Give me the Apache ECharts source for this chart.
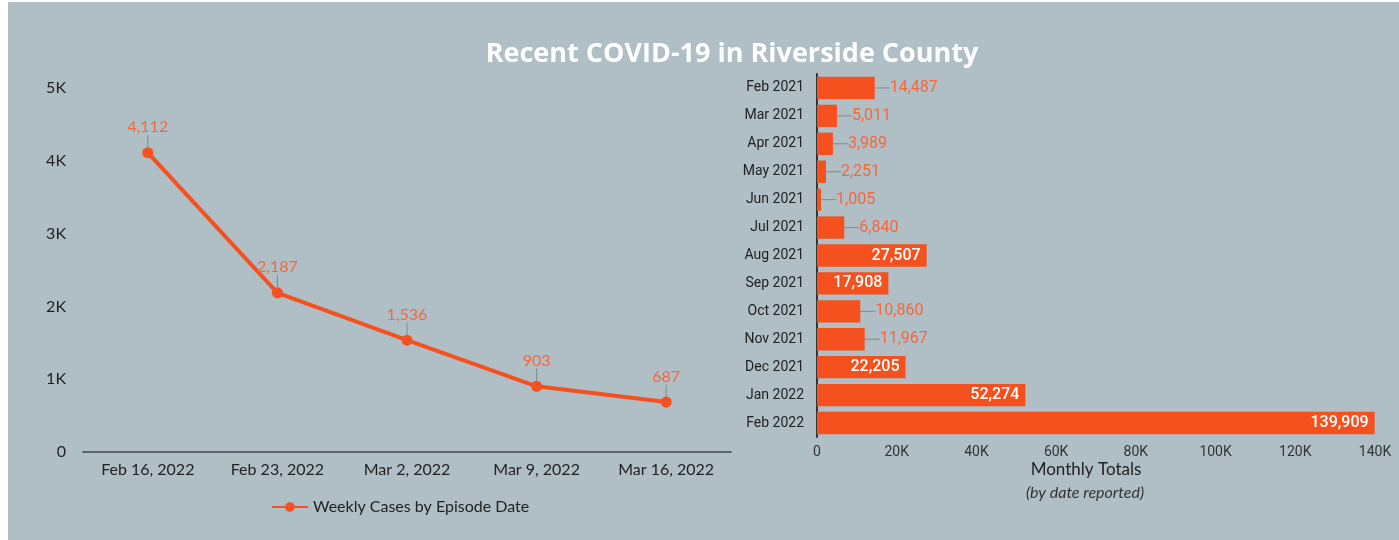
<!DOCTYPE html>
<html><head><meta charset="utf-8">
<script src="https://cdn.jsdelivr.net/npm/echarts@6/dist/echarts.min.js"></script>
<style>html,body{margin:0;padding:0;background:#fff}#c{width:1399px;height:540px}</style>
</head><body><div id="c"></div>
<script>
var titleText = 'Recent COVID-19 in Riverside County';
var weekCategories = ['Feb 16, 2022','Feb 23, 2022','Mar 2, 2022','Mar 9, 2022','Mar 16, 2022'];
var weeklyCases = [4112, 2187, 1536, 903, 687];
var weeklyTicks = [0, 1000, 2000, 3000, 4000, 5000];
var monthCategories = ['Feb 2021','Mar 2021','Apr 2021','May 2021','Jun 2021','Jul 2021','Aug 2021','Sep 2021','Oct 2021','Nov 2021','Dec 2021','Jan 2022','Feb 2022'];
var monthlyTotals = [14487, 5011, 3989, 2251, 1005, 6840, 27507, 17908, 10860, 11967, 22205, 52274, 139909];
var monthlyTicks = [0, 20000, 40000, 60000, 80000, 100000, 120000, 140000];

var ORANGE = '#f4511e';
var LABEL_ORANGE = '#f4683a';
function kfmt(v){ return v === 0 ? '0' : (v/1000) + 'K'; }
function nfmt(v){ return v.toLocaleString('en-US'); }

var barData = monthlyTotals.map(function(v){
  var inside = v > 15000;
  return {
    value: v,
    label: inside ? {position:'insideRight', color:'#fff', fontWeight:500, distance:6,
                     formatter:function(p){return nfmt(p.value);}} :
                    {position:'right', color:LABEL_ORANGE, distance:0,
                     formatter:function(p){return '{l|}{v|' + nfmt(p.value) + '}';},
                     rich:{l:{width:15, height:1, backgroundColor:'#7f8a90'},
                           v:{color:LABEL_ORANGE, fontFamily:'Roboto', fontSize:16}}}
  };
});

var chart = echarts.init(document.getElementById('c'));
chart.setOption({
  backgroundColor: '#b0bec5',
  animation: false,
  title: {
    text: titleText, left: 727, top: 36, textAlign: 'center',
    textStyle: {color:'#fff', fontFamily:'Open Sans', fontWeight:'bold', fontSize:27}
  },
  legend: {
    data: ['Weekly Cases by Episode Date'], left: 266, top: 494,
    itemWidth: 36, itemHeight: 12, itemGap: 8,
    textStyle: {color:'#222', fontFamily:'Lato', fontSize:16}
  },
  grid: [
    {left: 83, right: 1399-731, top: 88, bottom: 88},
    {left: 817, right: 24, top: 74, bottom: 103}
  ],
  xAxis: [
    {type:'category', gridIndex:0, data: weekCategories, boundaryGap:true,
     axisLine:{lineStyle:{color:'#5f6368', width:2}}, axisTick:{show:false},
     axisLabel:{color:'#222', fontFamily:'Lato', fontSize:16, margin:10}},
    {type:'value', gridIndex:1, min: monthlyTicks[0], max: monthlyTicks[monthlyTicks.length-1], interval: monthlyTicks[1]-monthlyTicks[0],
     splitLine:{show:false}, axisLine:{show:false}, axisTick:{show:false},
     axisLabel:{color:'#333', fontFamily:'Roboto', fontSize:14, margin:8, formatter:kfmt}}
  ],
  yAxis: [
    {type:'value', gridIndex:0, min: weeklyTicks[0], max: weeklyTicks[weeklyTicks.length-1], interval: weeklyTicks[1]-weeklyTicks[0],
     splitLine:{show:false}, axisLine:{show:false}, axisTick:{show:false},
     axisLabel:{color:'#222', fontFamily:'Lato', fontSize:16, margin:17, formatter:kfmt}},
    {type:'category', gridIndex:1, data: monthCategories, inverse:true,
     axisLine:{show:true, lineStyle:{color:'#333', width:2}}, axisTick:{show:false},
     axisLabel:{color:'#222', fontFamily:'Roboto', fontSize:14, margin:13}}
  ],
  series: [
    {name:'Weekly Cases by Episode Date', type:'line', xAxisIndex:0, yAxisIndex:0,
     data: weeklyCases, symbol:'circle', symbolSize:11,
     lineStyle:{color:ORANGE, width:4}, itemStyle:{color:ORANGE},
     label:{show:true, position:'top', distance:5, color:LABEL_ORANGE, fontFamily:'Lato', fontSize:16, formatter:function(p){return nfmt(p.value);}},
     labelLayout:{dy:-7},
     labelLine:{show:true, lineStyle:{color:'#7f8a90', width:1}}
    },
    {name:'Monthly', type:'bar', xAxisIndex:1, yAxisIndex:1, data: barData,
     barCategoryGap:'20%', itemStyle:{color:ORANGE},
     label:{show:true, fontFamily:'Roboto', fontSize:16}
    }
  ],
  graphic: [
    {type:'rect', shape:{x:0,y:0,width:8,height:540}, style:{fill:'#fff'}},
    {type:'rect', shape:{x:0,y:0,width:1399,height:2}, style:{fill:'#fff'}},
    {type:'text', x:1086, y:470, style:{text:'Monthly Totals', font:'17px Lato', fill:'#222', align:'center', verticalAlign:'middle'}},
    {type:'text', x:1085, y:493, style:{text:'(by date reported)', font:'italic 16px Lato', fill:'#333', align:'center', verticalAlign:'middle'}}
  ]
});
</script></body></html>
